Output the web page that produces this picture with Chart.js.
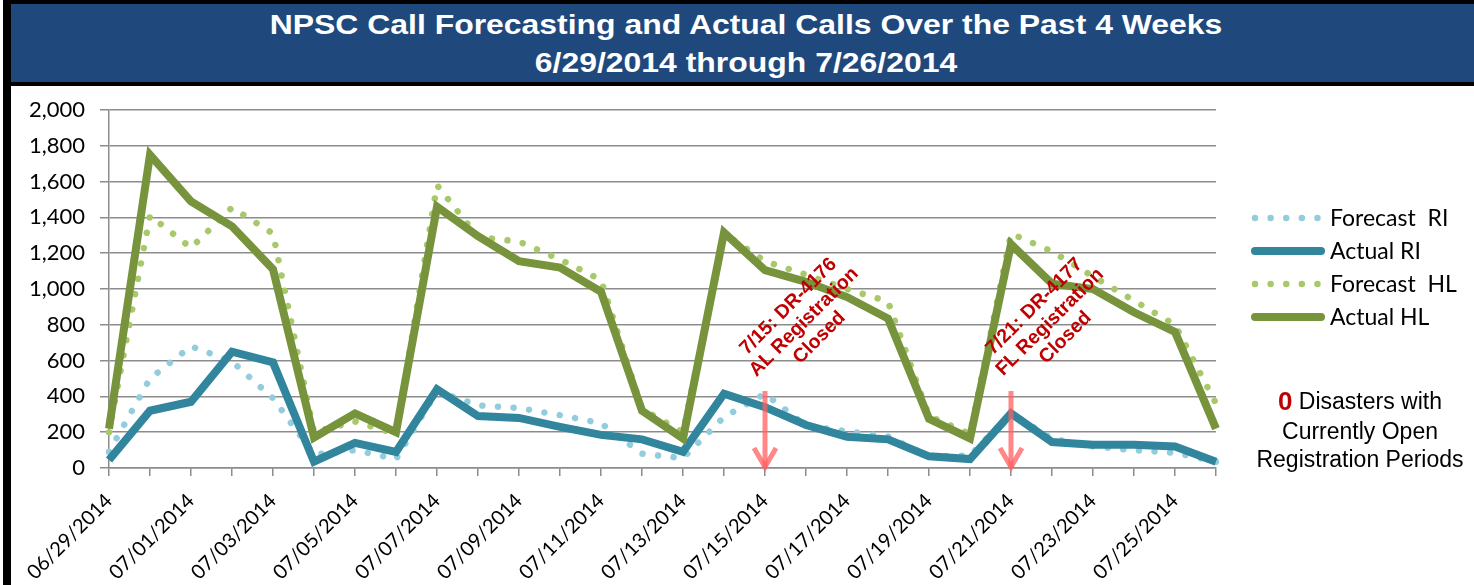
<!DOCTYPE html>
<html>
<head>
<meta charset="utf-8">
<title>NPSC Call Forecasting and Actual Calls</title>
<script src="https://cdn.jsdelivr.net/npm/chart.js@4.4.1/dist/chart.umd.min.js"></script>
<style>
  html, body { margin: 0; padding: 0; background: #fff; }
  body { width: 1474px; height: 585px; position: relative; overflow: hidden; }
  #frameLeft { position: absolute; left: 3px; top: 0; width: 8px; height: 585px; background: #000; }
  #banner {
    position: absolute; left: 3px; top: 0; width: 1478px; height: 86px; box-sizing: border-box;
    border-top: 4px solid #000; border-bottom: 4px solid #000; border-left: 8px solid #000;
    background: #1f497d; color: #fff; text-align: center;
    font: bold 28px "Liberation Sans", Arial, sans-serif; line-height: 38px; padding-top: 2px;
  }
  #banner div { transform: scaleX(1.14); }
  #chartBox { position: absolute; left: 11px; top: 86px; width: 1463px; height: 499px; }
</style>
</head>
<body>
<div id="frameLeft"></div>
<div id="banner">
  <div>NPSC Call Forecasting and Actual Calls Over the Past 4 Weeks</div>
  <div>6/29/2014 through 7/26/2014</div>
</div>
<div id="chartBox"><canvas id="callChart" width="1463" height="499"></canvas></div>
<script>
// daily call volumes, 06/29/2014 - 07/26/2014
var dates = ['06/29/2014', '06/30/2014', '07/01/2014', '07/02/2014', '07/03/2014', '07/04/2014', '07/05/2014',
             '07/06/2014', '07/07/2014', '07/08/2014', '07/09/2014', '07/10/2014', '07/11/2014', '07/12/2014',
             '07/13/2014', '07/14/2014', '07/15/2014', '07/16/2014', '07/17/2014', '07/18/2014', '07/19/2014',
             '07/20/2014', '07/21/2014', '07/22/2014', '07/23/2014', '07/24/2014', '07/25/2014', '07/26/2014'];
var forecastRI = [90, 500, 680, 595, 390, 75, 100, 50, 430, 350, 335, 295, 250, 80,
                  55, 285, 415, 235, 205, 175, 65, 70, 305, 165, 120, 100, 85, 35];
var actualRI = [45, 320, 370, 650, 590, 35, 140, 90, 440, 290, 280, 230, 185, 160,
                90, 415, 340, 240, 175, 160, 65, 50, 305, 145, 130, 130, 120, 35];
var forecastHL = [200, 1410, 1230, 1455, 1310, 200, 260, 190, 1580, 1290, 1265, 1165, 1050, 330,
                  200, 1310, 1155, 1080, 1000, 930, 290, 190, 1310, 1210, 1070, 935, 800, 360];
var actualHL = [220, 1750, 1490, 1350, 1110, 170, 305, 200, 1460, 1295, 1155, 1120, 985, 320,
                165, 1315, 1105, 1040, 955, 835, 275, 165, 1250, 1030, 1000, 870, 760, 220];

// registration closings marked with arrows
var closingDates = ['07/15/2014', '07/21/2014'];
var closingNotes = [
  ['7/15: DR-4176', 'AL Registration', 'Closed'],
  ['7/21: DR-4177', 'FL Registration', 'Closed']
];
var openDisasters = 0;

var gridColor = '#8c8c8c';

// arrows and rotated notes for the closings
var closingMarks = {
  id: 'closingMarks',
  afterDatasetsDraw: function(chart) {
    var ctx = chart.ctx;
    var x = chart.scales.x, y = chart.scales.y;
    closingDates.forEach(function(d, k) {
      var i = dates.indexOf(d);
      var px = x.getPixelForValue(i);
      var step = x.getPixelForValue(i + 1) - px;
      var top = y.getPixelForValue(430);
      var tip = y.getPixelForValue(0) + 2;

      ctx.save();
      ctx.strokeStyle = 'rgba(255, 95, 95, 0.75)';
      ctx.lineWidth = 5;
      ctx.beginPath();
      ctx.moveTo(px, top);
      ctx.lineTo(px, tip - 2);
      ctx.stroke();
      ctx.lineJoin = 'miter';
      ctx.beginPath();
      ctx.moveTo(px - 11, tip - 22);
      ctx.lineTo(px, tip - 3);
      ctx.lineTo(px + 11, tip - 22);
      ctx.stroke();
      ctx.restore();

      // three line note, rotated
      var cx = px + step * 0.95;
      var cy = y.getPixelForValue(815);
      ctx.save();
      ctx.translate(cx, cy);
      ctx.rotate(-Math.PI / 4);
      ctx.fillStyle = '#c00000';
      ctx.font = 'bold 19.5px "Liberation Sans", Arial, sans-serif';
      ctx.textAlign = 'center';
      ctx.textBaseline = 'middle';
      closingNotes[k].forEach(function(line, j) {
        ctx.fillText(line, 0, (j - 1) * 22);
      });
      ctx.restore();
    });
  }
};

// legend and open-disaster note to the right of the plot
var sidePanel = {
  id: 'sidePanel',
  afterDraw: function(chart) {
    var ctx = chart.ctx;
    var area = chart.chartArea;
    var x0 = area.right + 39;
    chart.data.datasets.forEach(function(ds, i) {
      var yy = area.top + 108 + i * 33;
      ctx.save();
      ctx.strokeStyle = ds.borderColor;
      ctx.lineWidth = ds.borderWidth;
      ctx.lineCap = 'round';
      ctx.setLineDash(ds.borderDash || []);
      ctx.beginPath();
      ctx.moveTo(x0, yy);
      ctx.lineTo(ds.borderDash ? x0 + 63 : x0 + 66, yy);
      ctx.stroke();
      ctx.restore();
      ctx.save();
      ctx.fillStyle = '#000';
      ctx.font = '23px Lato, sans-serif';
      ctx.textBaseline = 'middle';
      ctx.fillText(ds.label, area.right + 114, yy + 1);
      ctx.restore();
    });

    var cx = area.right + 144;
    var baseY = area.top + 293;
    ctx.save();
    ctx.textBaseline = 'middle';
    var numFont = 'bold 26px "Liberation Sans", Arial, sans-serif';
    var txtFont = '23px "Liberation Sans", Arial, sans-serif';
    var num = String(openDisasters);
    var rest = ' Disasters with';
    ctx.font = numFont;
    var wNum = ctx.measureText(num).width;
    ctx.font = txtFont;
    var wRest = ctx.measureText(rest).width;
    var left = cx - (wNum + wRest) / 2;
    ctx.textAlign = 'left';
    ctx.font = numFont;
    ctx.fillStyle = '#c00000';
    ctx.fillText(num, left, baseY);
    ctx.font = txtFont;
    ctx.fillStyle = '#000';
    ctx.fillText(rest, left + wNum, baseY);
    ctx.textAlign = 'center';
    ctx.fillText('Currently Open', cx, baseY + 30);
    ctx.fillText('Registration Periods', cx, baseY + 58);
    ctx.restore();
  }
};

var ctx = document.getElementById('callChart').getContext('2d');
var callChart = new Chart(ctx, {
  type: 'line',
  data: {
    labels: dates,
    datasets: [
      {
        label: 'Forecast  RI',
        data: forecastRI,
        borderColor: '#93cddd',
        borderWidth: 6.5,
        borderDash: [0.01, 15.6],
        borderCapStyle: 'round',
        order: 4
      },
      {
        label: 'Actual RI',
        data: actualRI,
        borderColor: '#31859c',
        borderWidth: 8,
        order: 3
      },
      {
        label: 'Forecast  HL',
        data: forecastHL,
        borderColor: '#a7c96a',
        borderWidth: 6.5,
        borderDash: [0.01, 15.6],
        borderCapStyle: 'round',
        order: 2
      },
      {
        label: 'Actual HL',
        data: actualHL,
        borderColor: '#77933c',
        borderWidth: 8,
        order: 1
      }
    ]
  },
  options: {
    responsive: false,
    animation: false,
    devicePixelRatio: 1,
    elements: {
      line: { tension: 0, fill: false },
      point: { radius: 0, hoverRadius: 0 }
    },
    layout: { padding: { top: 24, right: 258, left: 0, bottom: 0 } },
    plugins: {
      legend: { display: false },
      tooltip: { enabled: false }
    },
    scales: {
      x: {
        offset: false,
        grid: { drawOnChartArea: false, drawTicks: true, tickLength: 8, color: gridColor, lineWidth: 1.5 },
        border: { color: gridColor, width: 1.5 },
        ticks: {
          autoSkip: false,
          maxRotation: 45,
          minRotation: 45,
          padding: 13,
          color: '#000',
          font: { family: 'Lato', size: 20 },
          callback: function(value, index) {
            return index % 2 === 0 ? this.getLabelForValue(value) : '';
          }
        },
        afterFit: function(scale) { scale.height = 117; }
      },
      y: {
        min: 0,
        max: 2000,
        grid: { color: gridColor, lineWidth: 1.5, tickLength: 9 },
        border: { color: gridColor, width: 1.5 },
        ticks: {
          stepSize: 200,
          padding: 15,
          color: '#000',
          font: { family: 'Lato', size: 22 }
        },
        afterFit: function(scale) {
          scale.width = 98;
          // tick padding would otherwise push the plot top down
          scale.paddingTop = 0;
          scale.paddingBottom = 0;
        }
      }
    }
  },
  plugins: [closingMarks, sidePanel]
});
</script>
</body>
</html>
